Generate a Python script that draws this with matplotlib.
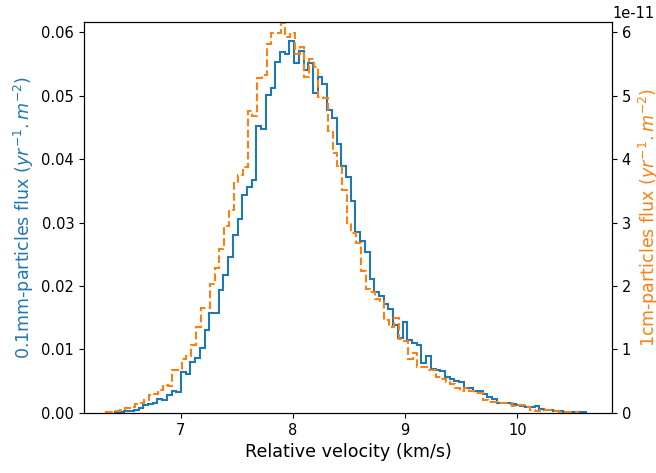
import numpy as np
import matplotlib
matplotlib.use("Agg")
import matplotlib.pyplot as plt

# Histogram of relative velocities (km/s), 100 bins each
vel_min_01mm = 6.415
vel_min_1cm = 6.337
bin_width = 0.042
n_bins = 100

# 0.1 mm particle flux per bin (yr^-1 m^-2)
flux_01mm = [
    0.0001, 0.0001, 0.0003, 0.0003, 0.0005, 0.0007, 0.0012, 0.0014, 0.0016, 0.0022,
    0.0020, 0.0028, 0.0035, 0.0033, 0.0064, 0.0062, 0.0080, 0.0086, 0.0102, 0.0130,
    0.0157, 0.0157, 0.0193, 0.0218, 0.0245, 0.0280, 0.0305, 0.0344, 0.0356, 0.0367,
    0.0452, 0.0447, 0.0501, 0.0512, 0.0553, 0.0569, 0.0566, 0.0586, 0.0552, 0.0570,
    0.0540, 0.0551, 0.0504, 0.0530, 0.0519, 0.0477, 0.0465, 0.0423, 0.0389, 0.0371,
    0.0334, 0.0285, 0.0271, 0.0254, 0.0211, 0.0190, 0.0184, 0.0172, 0.0163, 0.0139,
    0.0118, 0.0143, 0.0115, 0.0110, 0.0107, 0.0079, 0.0089, 0.0069, 0.0068, 0.0066,
    0.0056, 0.0054, 0.0051, 0.0048, 0.0040, 0.0040, 0.0035, 0.0035, 0.0030, 0.0025,
    0.0022, 0.0016, 0.0016, 0.0015, 0.0014, 0.0012, 0.0011, 0.0010, 0.0010, 0.0011,
    0.0006, 0.0005, 0.0005, 0.0003, 0.0003, 0.0002, 0.0001, 0.0001, 0.0001, 0.0001,
]

# 1 cm particle flux per bin, in units of 1e-11 yr^-1 m^-2
flux_1cm_e11 = [
    0.01, 0.02, 0.03, 0.04, 0.07, 0.10, 0.14, 0.15, 0.20, 0.28,
    0.30, 0.36, 0.44, 0.42, 0.67, 0.68, 0.85, 0.90, 1.07, 1.36,
    1.66, 1.66, 2.03, 2.29, 2.58, 2.95, 3.20, 3.62, 3.75, 3.87,
    4.76, 4.68, 5.27, 5.32, 5.81, 5.98, 5.98, 6.14, 5.92, 5.99,
    5.66, 5.77, 5.30, 5.57, 5.45, 4.98, 4.96, 4.45, 4.10, 3.89,
    3.51, 2.99, 2.84, 2.67, 2.23, 1.96, 1.91, 1.80, 1.76, 1.46,
    1.35, 1.50, 1.16, 1.14, 0.85, 0.94, 0.72, 0.72, 0.68, 0.68,
    0.56, 0.53, 0.49, 0.45, 0.40, 0.34, 0.39, 0.34, 0.31, 0.31,
    0.20, 0.18, 0.18, 0.16, 0.16, 0.15, 0.11, 0.13, 0.13, 0.10,
    0.05, 0.03, 0.05, 0.05, 0.04, 0.03, 0.02, 0.01, 0.01, 0.01,
]

xticks = [7, 8, 9, 10]

plt.rcParams['font.size'] = 10.5
plt.rcParams['axes.labelsize'] = 12.6
plt.rcParams['axes.unicode_minus'] = False

edges_01mm = vel_min_01mm + bin_width * np.arange(n_bins + 1)
edges_1cm = vel_min_1cm + bin_width * np.arange(n_bins + 1)
flux_1cm = np.array(flux_1cm_e11) * 1e-11

fig, ax1 = plt.subplots(figsize=(6.56, 4.73), dpi=100)
fig.subplots_adjust(left=0.128, right=0.933, top=0.9535, bottom=0.127)

ax1.stairs(flux_01mm, edges_01mm, color='tab:blue', linewidth=1.5)
ax1.set_xlabel('Relative velocity (km/s)')
ax1.set_ylabel('0.1mm-particles flux ($yr^{-1}.m^{-2}$)', color='tab:blue')
ax1.set_ylim(0, 0.0616)
ax1.set_xlim(6.138, 10.844)
ax1.set_xticks(xticks)

ax2 = ax1.twinx()
ax2.stairs(flux_1cm, edges_1cm, color='tab:orange', linestyle='--', linewidth=1.5)
ax2.set_ylabel('1cm-particles flux ($yr^{-1}.m^{-2}$)', color='tab:orange')
ax2.set_ylim(0, 6.16e-11)
ax2.yaxis.get_offset_text().set_horizontalalignment('left')

fig.savefig('out.png', dpi=100)
